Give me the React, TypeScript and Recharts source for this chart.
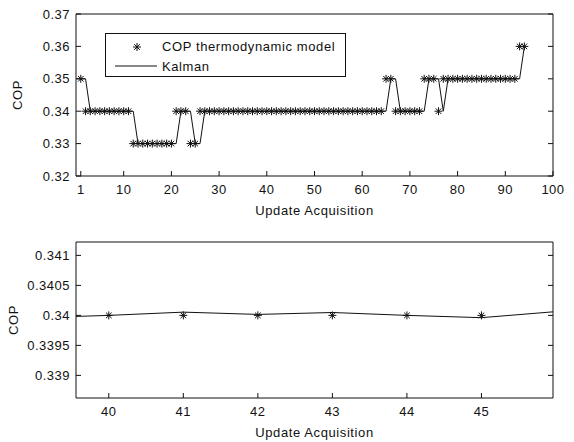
import { ComposedChart, Line, Scatter, XAxis, YAxis, Legend } from 'recharts';

// update acquisition index, 1..94
const steps = Array.from({ length: 94 }, (_, i) => i + 1);

// COP thermodynamic model (one value per update)
const copModel = [
  0.35, 0.34, 0.34, 0.34, 0.34, 0.34, 0.34, 0.34, 0.34, 0.34,
  0.34, 0.33, 0.33, 0.33, 0.33, 0.33, 0.33, 0.33, 0.33, 0.33,
  0.34, 0.34, 0.34, 0.33, 0.33, 0.34, 0.34, 0.34, 0.34, 0.34,
  0.34, 0.34, 0.34, 0.34, 0.34, 0.34, 0.34, 0.34, 0.34, 0.34,
  0.34, 0.34, 0.34, 0.34, 0.34, 0.34, 0.34, 0.34, 0.34, 0.34,
  0.34, 0.34, 0.34, 0.34, 0.34, 0.34, 0.34, 0.34, 0.34, 0.34,
  0.34, 0.34, 0.34, 0.34, 0.35, 0.35, 0.34, 0.34, 0.34, 0.34,
  0.34, 0.34, 0.35, 0.35, 0.35, 0.34, 0.35, 0.35, 0.35, 0.35,
  0.35, 0.35, 0.35, 0.35, 0.35, 0.35, 0.35, 0.35, 0.35, 0.35,
  0.35, 0.35, 0.36, 0.36,
];

// Kalman estimate
const kalman = [
  0.35, 0.35, 0.34, 0.34, 0.34, 0.34, 0.34, 0.34, 0.34, 0.34,
  0.34, 0.34, 0.33, 0.33, 0.33, 0.33, 0.33, 0.33, 0.33, 0.33,
  0.33, 0.34, 0.34, 0.34, 0.33, 0.33, 0.34, 0.34, 0.34, 0.34,
  0.34, 0.34, 0.34, 0.34, 0.34, 0.34, 0.34, 0.34, 0.33996, 0.34,
  0.340054, 0.340016, 0.340048, 0.34, 0.339962, 0.340063, 0.34, 0.34, 0.34, 0.34,
  0.34, 0.34, 0.34, 0.34, 0.34, 0.34, 0.34, 0.34, 0.34, 0.34,
  0.34, 0.34, 0.34, 0.34, 0.34, 0.35, 0.35, 0.34, 0.34, 0.34,
  0.34, 0.34, 0.34, 0.35, 0.35, 0.35, 0.34, 0.35, 0.35, 0.35,
  0.35, 0.35, 0.35, 0.35, 0.35, 0.35, 0.35, 0.35, 0.35, 0.35,
  0.35, 0.35, 0.35, 0.36,
];

const topXTicks = [1, 10, 20, 30, 40, 50, 60, 70, 80, 90, 100];
const topYTicks = [0.32, 0.33, 0.34, 0.35, 0.36, 0.37];
const zoomXTicks = [40, 41, 42, 43, 44, 45];
const zoomYTicks = [0.339, 0.3395, 0.34, 0.3405, 0.341];

const modelRows = steps.map((x, i) => ({ x, v: copModel[i] }));
const kalmanRows = steps.map((x, i) => ({ x, v: kalman[i] }));
const zoomModelRows = modelRows.filter(r => r.x >= 40 && r.x <= 45);
const zoomKalmanRows = kalmanRows.filter(r => r.x >= 39 && r.x <= 46);

const FONT = '"Liberation Sans", Arial, Helvetica, sans-serif';
const INK = '#111';
const TICK = 5; // inward tick length
const GAP_X = 8; // bottom label gap
const GAP_Y = 6; // left label gap
const textProps = { fontFamily: FONT, fontSize: 13, fill: INK, letterSpacing: 0.5 };
const labelStyle = { fontFamily: FONT, fontSize: 13, fill: INK, letterSpacing: 0.6, textAnchor: 'middle' as const };

// matlab draws tick marks inside the box, so the tick lines are drawn here
const BottomTick = ({ x, y, payload }: any) => (
  <g>
    <line x1={x} x2={x} y1={y - GAP_X} y2={y - GAP_X - TICK} stroke={INK} />
    <text x={x} y={y} dy={10} textAnchor="middle" {...textProps}>{payload.value}</text>
  </g>
);
const LeftTick = ({ x, y, payload }: any) => (
  <g>
    <line x1={x + GAP_Y} x2={x + GAP_Y + TICK} y1={y} y2={y} stroke={INK} />
    <text x={x} y={y} dy={4.5} textAnchor="end" {...textProps}>{payload.value}</text>
  </g>
);
const TopTick = ({ x, y }: any) => <line x1={x} x2={x} y1={y} y2={y + TICK} stroke={INK} />;
const RightTick = ({ x, y }: any) => <line x1={x} x2={x - TICK} y1={y} y2={y} stroke={INK} />;

// matlab style '*' marker
const Asterisk = (props: any) => {
  const { cx, cy } = props;
  if (cx == null || cy == null) return null;
  const a = 4;
  const d = 2.8;
  return (
    <g stroke={INK} strokeWidth={1}>
      <line x1={cx - a} y1={cy} x2={cx + a} y2={cy} />
      <line x1={cx} y1={cy - a} x2={cx} y2={cy + a} />
      <line x1={cx - d} y1={cy - d} x2={cx + d} y2={cy + d} />
      <line x1={cx - d} y1={cy + d} x2={cx + d} y2={cy - d} />
    </g>
  );
};

const KeyBox = () => (
  <svg width={242} height={45} style={{ display: 'block' }}>
    <rect x={0.5} y={0.5} width={240} height={43} fill="#fff" stroke={INK} />
    <Asterisk cx={32} cy={14} />
    <text x={57} y={18} fontFamily={FONT} fontSize={13} letterSpacing={0.6} fill={INK}>
      COP thermodynamic model
    </text>
    <line x1={10} y1={33} x2={52} y2={33} stroke={INK} />
    <text x={57} y={38} fontFamily={FONT} fontSize={13} letterSpacing={0.6} fill={INK}>
      Kalman
    </text>
  </svg>
);

export default function App() {
  return (
    <div style={{ position: 'absolute', left: 0, top: 0, width: 574, height: 442, background: '#fff' }}>
      <ComposedChart width={574} height={220} margin={{ top: 13, right: 20, bottom: 0, left: 0 }}>
        <XAxis
          type="number"
          dataKey="x"
          domain={[0, 100]}
          ticks={topXTicks}
          allowDataOverflow
          height={44}
          stroke={INK}
          tickLine={false}
          tickSize={0}
          tickMargin={GAP_X}
          tick={<BottomTick />}
          label={{ value: 'Update Acquisition', position: 'insideBottom', offset: 5, style: labelStyle }}
        />
        <XAxis
          xAxisId="top"
          orientation="top"
          type="number"
          domain={[0, 100]}
          ticks={topXTicks}
          allowDataOverflow
          height={1}
          stroke={INK}
          tickLine={false}
          tickSize={0}
          tickMargin={0}
          tick={<TopTick />}
        />
        <YAxis
          type="number"
          domain={[0.32, 0.37]}
          ticks={topYTicks}
          allowDataOverflow
          width={76}
          stroke={INK}
          tickLine={false}
          tickSize={0}
          tickMargin={GAP_Y}
          tick={<LeftTick />}
          label={{ value: 'COP', angle: -90, position: 'insideLeft', offset: 17, style: labelStyle }}
        />
        <YAxis
          yAxisId="right"
          orientation="right"
          type="number"
          domain={[0.32, 0.37]}
          ticks={topYTicks}
          allowDataOverflow
          width={1}
          stroke={INK}
          tickLine={false}
          tickSize={0}
          tickMargin={0}
          tick={<RightTick />}
        />
        <Line
          data={kalmanRows}
          dataKey="v"
          type="linear"
          stroke={INK}
          strokeWidth={1}
          dot={false}
          isAnimationActive={false}
        />
        <Scatter data={modelRows} dataKey="v" shape={<Asterisk />} isAnimationActive={false} />
        <Legend
          layout="horizontal"
          verticalAlign="middle"
          align="center"
          content={() => <KeyBox />}
          wrapperStyle={{ left: 105, top: 33, width: 242, height: 45 }}
        />
      </ComposedChart>

      <ComposedChart width={574} height={222} margin={{ top: 21, right: 20, bottom: 0, left: 0 }}>
        <XAxis
          type="number"
          dataKey="x"
          domain={[39.56, 45.96]}
          ticks={zoomXTicks}
          allowDataOverflow
          height={44}
          stroke={INK}
          tickLine={false}
          tickSize={0}
          tickMargin={GAP_X}
          tick={<BottomTick />}
          label={{ value: 'Update Acquisition', position: 'insideBottom', offset: 5, style: labelStyle }}
        />
        <XAxis
          xAxisId="top"
          orientation="top"
          type="number"
          domain={[39.56, 45.96]}
          ticks={zoomXTicks}
          allowDataOverflow
          height={1}
          stroke={INK}
          tickLine={false}
          tickSize={0}
          tickMargin={0}
          tick={<TopTick />}
        />
        <YAxis
          type="number"
          domain={[0.338623, 0.341223]}
          ticks={zoomYTicks}
          allowDataOverflow
          width={76}
          stroke={INK}
          tickLine={false}
          tickSize={0}
          tickMargin={GAP_Y}
          tick={<LeftTick />}
          label={{ value: 'COP', angle: -90, position: 'insideLeft', offset: 13, style: labelStyle }}
        />
        <YAxis
          yAxisId="right"
          orientation="right"
          type="number"
          domain={[0.338623, 0.341223]}
          ticks={zoomYTicks}
          allowDataOverflow
          width={1}
          stroke={INK}
          tickLine={false}
          tickSize={0}
          tickMargin={0}
          tick={<RightTick />}
        />
        <Line
          data={zoomKalmanRows}
          dataKey="v"
          type="linear"
          stroke={INK}
          strokeWidth={1}
          dot={false}
          isAnimationActive={false}
        />
        <Scatter data={zoomModelRows} dataKey="v" shape={<Asterisk />} isAnimationActive={false} />
      </ComposedChart>
    </div>
  );
}
